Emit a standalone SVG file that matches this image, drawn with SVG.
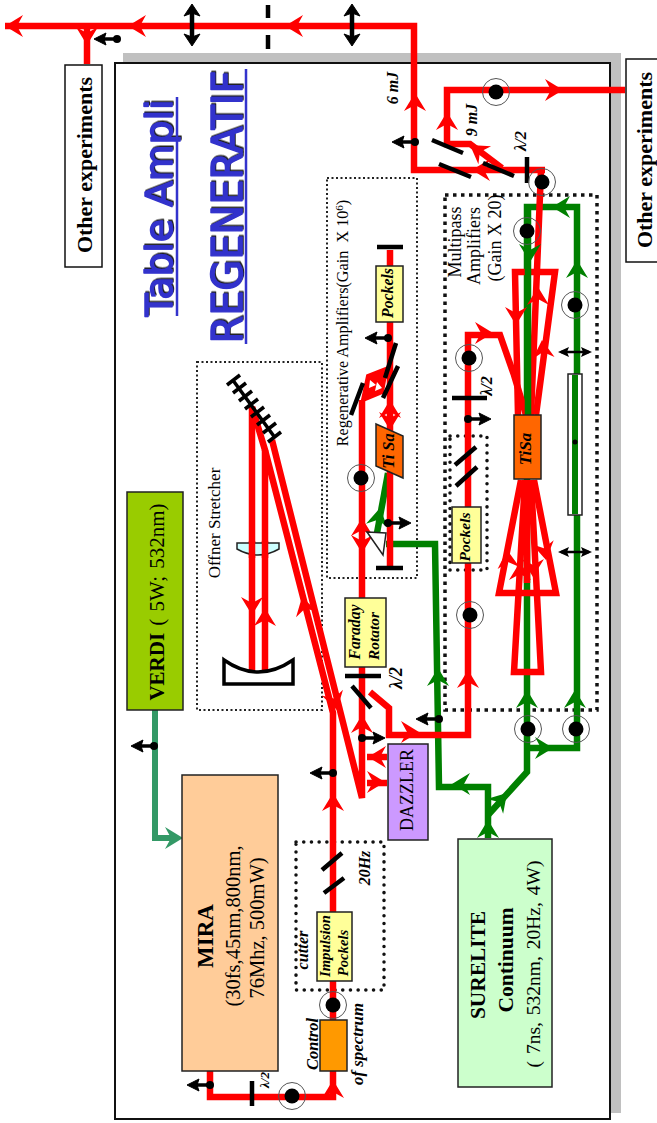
<svg xmlns="http://www.w3.org/2000/svg" width="657" height="1123" viewBox="0 0 657 1123">
<style>
text{font-family:"Liberation Serif","Times New Roman",serif;fill:#000}
.b{font-weight:bold}
.i{font-weight:bold;font-style:italic}
.t{font-family:"DejaVu Sans",sans-serif;fill:#3333cc;stroke:#3333cc;stroke-width:1.4;stroke-linejoin:round;filter:url(#sh)}
.red{fill:none;stroke:#f00;stroke-width:6.5;stroke-linejoin:miter}
.grn{fill:none;stroke:#008000;stroke-width:6.5}
.box{stroke:#222;stroke-width:1.5}
.yel{fill:#ffff99;stroke:#222;stroke-width:1.5}
.opt{stroke:#000;stroke-width:4.5;fill:none}
.dot1{fill:none;stroke:#222;stroke-width:2;stroke-dasharray:2 2.5}
.dot2{fill:none;stroke:#111;stroke-width:3.5;stroke-dasharray:3.5 4.5}
.dot3{fill:none;stroke:#111;stroke-width:3.5;stroke-linecap:round;stroke-dasharray:0.1 7.6}
.ring{fill:none;stroke:#555;stroke-width:1}
</style>
<defs>
<filter id="sh" x="-10%" y="-10%" width="120%" height="120%"><feDropShadow dx="1.5" dy="1" stdDeviation="0.6" flood-color="#222"/></filter>
<path id="ah" d="M0,0 L-18,-11 L-12,0 L-18,11 Z"/>
<g id="ci"><circle r="13.5" class="ring"/><circle r="7.5" fill="#000"/></g>
<g id="da"><circle r="4" fill="#000"/><path d="M0,0 L-14,0" stroke="#000" stroke-width="3.5"/><path d="M-23,0 L-11,-6 L-13,0 L-11,6Z" fill="#000" stroke="#000"/></g>
<g id="dv"><path d="M0,-16 L0,16" stroke="#000" stroke-width="4.5"/><path d="M0,-21 L-8,-9 L0,-12 L8,-9Z M0,21 L-8,9 L0,12 L8,9Z" fill="#000" stroke="#000"/></g>
<g id="dh"><path d="M-14,0 L14,0" stroke="#000" stroke-width="2.5"/><path d="M-17,0 L-6,-5 L-8,0 L-6,5Z M17,0 L6,-5 L8,0 L6,5Z" fill="#000"/></g>
</defs>

<g id="table">
<path d="M123,53 H621 V1113 H611 V63 H123Z" fill="#c0c0c0"/>
<rect x="115" y="63" width="495" height="1056" fill="#fff" stroke="#111" stroke-width="2"/>
</g>

<g id="title">
<text class="t" transform="translate(172,208) rotate(-90)" text-anchor="middle" font-size="38" textLength="217" lengthAdjust="spacingAndGlyphs">Table Ampli</text>
<path d="M177,97 V316 M246,69 V344" stroke="#3333cc" stroke-width="2.5"/>
<text class="t" transform="translate(242,207) rotate(-90)" text-anchor="middle" font-size="43" textLength="273" lengthAdjust="spacingAndGlyphs">REGENERATIF</text>
</g>

<g id="enclosures">
<rect x="327" y="178" width="90" height="400" class="dot1"/>
<rect x="197" y="362" width="125" height="348" class="dot1"/>
<rect x="445" y="195" width="152" height="515" class="dot2"/>
<rect x="450" y="436" width="37" height="134" class="dot3"/>
<rect x="296" y="842" width="88" height="148" class="dot3"/>
</g>

<g id="connectors">
<g id="green-beams">
<path class="grn" d="M388,473 L377,533"/>
<path class="grn" d="M386,544 H435 L439,787 H488 V838"/>
<path class="grn" d="M488,815 L527,772 V207 H577 V748 H527"/>
</g>
<g id="red-beams">
<path class="red" d="M5,26 H414 V170 H545"/>
<path class="red" d="M87,26 V64"/>
<path class="red" d="M625,90 H447 V144 H470 L502,168"/>
<path class="red" d="M210,1071 V1097 H333 V713 L265,450 L252,407 M272,440 L362,798 V400"/>
<path class="red" d="M252,672 V407 M265,672 V450"/>
<path d="M363,400 L368,376 L386,369 L382,392Z" fill="#f00" stroke="#f00" stroke-width="4"/>
<path d="M370,380 L376,385 L369,388Z M377,382 L382,388 L375,391Z" fill="#fff"/>
<path class="red" d="M390,250 V568"/>
<path class="red" d="M367,757 H387 M367,783 H387"/>
<path class="red" d="M370,692 L389,708 V735 H468 V335 H500 L514,375 L526,415"/>
<path class="red" d="M541,170 L537,270 L531,415"/>
<path class="red" d="M518,415 L515,272 H555 L536,415"/>
<path class="red" d="M521,480 L499,593 H556 L534,480"/>
<path class="red" d="M525,480 L514,672 H541 L531,480"/>
<path class="red" d="M527,480 V583"/>
</g>
<path class="grn" d="M528,207 V415"/>
<path id="pump-mira" d="M155,710 V838 H172" fill="none" stroke="#339966" stroke-width="6"/>
<use href="#ah" fill="#339966" transform="translate(183,838)"/>
<g id="arrowheads" fill="#f00">
<use href="#ah" transform="translate(5,26) rotate(180)"/>
<use href="#ah" transform="translate(128,26) rotate(180)"/>
<use href="#ah" transform="translate(285,26) rotate(180)"/>
<use href="#ah" transform="translate(87,45) rotate(90)"/>
<use href="#ah" transform="translate(415,93) rotate(-90)"/>
<use href="#ah" transform="translate(447,112) rotate(-90)"/>
<use href="#ah" transform="translate(563,90)"/>
<use href="#ah" transform="translate(470,145) rotate(-145)"/>
<use href="#ah" transform="translate(472,170) rotate(180)"/>
<use href="#ah" transform="translate(538,287) rotate(-90)"/>
<use href="#ah" transform="translate(516,325) rotate(90)"/>
<use href="#ah" transform="translate(542,340) rotate(-95)"/>
<use href="#ah" transform="translate(493,333)"/>
<use href="#ah" transform="translate(507,550) rotate(-95)"/>
<use href="#ah" transform="translate(520,562) rotate(-90)"/>
<use href="#ah" transform="translate(533,577) rotate(90)"/>
<use href="#ah" transform="translate(546,560) rotate(80)"/>
<use href="#ah" transform="translate(468,670) rotate(-90)"/>
<use href="#ah" transform="translate(362,518) rotate(-90)"/>
<use href="#ah" transform="translate(362,553) rotate(90)"/>
<use href="#ah" transform="translate(390,400) rotate(-90)"/>
<use href="#ah" transform="translate(390,430) rotate(90)"/>
<use href="#ah" transform="translate(419,732)"/>
<use href="#ah" transform="translate(362,715) rotate(-90)"/>
<use href="#ah" transform="translate(333,793) rotate(-90)"/>
<use href="#ah" transform="translate(368,757) rotate(180)"/>
<use href="#ah" transform="translate(385,782)"/>
<use href="#ah" transform="translate(252,615) rotate(90)"/>
<use href="#ah" transform="translate(265,608) rotate(-90)"/>
<use href="#ah" transform="translate(302,597) rotate(-105)"/>
<use href="#ah" transform="translate(337,710) rotate(75)"/>
<use href="#ah" transform="translate(333,1080) rotate(-90)"/>
</g>
<g id="arrowheads-green" fill="#008000">
<use href="#ah" transform="translate(552,207) rotate(180)"/>
<use href="#ah" transform="translate(530,262) rotate(90)"/>
<use href="#ah" transform="translate(577,260) rotate(-90)"/>
<use href="#ah" transform="translate(527,690) rotate(-90)"/>
<use href="#ah" transform="translate(575,690) rotate(-90)"/>
<use href="#ah" transform="translate(438,668) rotate(-90)"/>
<use href="#ah" transform="translate(380,508) rotate(-80)"/>
<use href="#ah" transform="translate(452,784) rotate(180)"/>
<use href="#ah" transform="translate(488,820) rotate(-90)"/>
<use href="#ah" transform="translate(507,793) rotate(-48)"/>
<use href="#ah" transform="translate(553,748)"/>
</g>
</g>

<g id="optics">
<path class="opt" d="M268,5 V18 M268,35 V49"/>
<use href="#dv" x="192" y="25"/>
<use href="#dv" x="352" y="25"/>
<path class="opt" d="M432,140 L463,153 M439,164 L471,177 M483,163 L514,176"/>
<path class="opt" d="M527,157 V183"/>
<path class="opt" d="M377,247 H403 M376,568 H403"/>
<path class="opt" d="M351,415 L363,383 M383,398 L398,366 M385,378 L396,343"/>
<path class="opt" d="M452,398 H487 M455,465 L476,447 M456,486 L477,467"/>
<path class="opt" d="M345,676 H381 M352,686 L371,708"/>
<path class="opt" d="M322,870 L342,853 M324,893 L344,878"/>
<path class="opt" d="M252,1081 V1106"/>
<path d="M233.500,381 L274.500,437 M227,385 L240,375 M233,393 L246,383 M239,401 L252,391 M245,409 L258,399 M251,417 L264,407 M257,425 L270,415 M263,433 L276,423 M268,442 L281,432" stroke="#000" stroke-width="3.5" fill="none"/>
<path d="M224,660 Q258,684 293,660 V684 H224Z" fill="#fff" stroke="#000" stroke-width="3.5"/>
<path d="M237,543 H279 V549 Q258,561 237,549Z" fill="#ccffff" stroke="#222" stroke-width="1.5"/>
<path class="red" d="M252,541 V558 M265,541 V558"/>
<use href="#ci" x="496" y="92"/>
<use href="#ci" x="542" y="182"/>
<use href="#ci" x="527" y="231"/>
<use href="#ci" x="575" y="305"/>
<use href="#ci" x="469" y="358"/>
<use href="#ci" x="361" y="478"/>
<use href="#ci" x="470" y="615"/>
<use href="#ci" x="528" y="729"/>
<use href="#ci" x="576" y="729"/>
<use href="#ci" x="333" y="1005"/>
<use href="#ci" x="292" y="1096"/>
<use href="#da" x="117" y="39"/>
<use href="#da" x="415" y="142"/>
<use href="#da" x="388" y="338"/>
<use href="#da" transform="translate(468,419) scale(-1,1)"/>
<use href="#da" transform="translate(388,523) scale(-1,1)"/>
<use href="#da" transform="translate(362,738) scale(-1,1)"/>
<use href="#da" x="439" y="719"/>
<use href="#da" x="333" y="773"/>
<use href="#da" x="154" y="746"/>
<use href="#da" x="210" y="1085"/>
<use href="#dh" x="575" y="352"/>
<use href="#dh" x="575" y="552"/>
<path d="M367,532 L386,533 L383,555Z" fill="#fff" stroke="#222" stroke-width="1.5"/>
<rect x="568" y="374" width="14" height="141" fill="#fff" stroke="#222" stroke-width="1.5"/>
<path d="M575,375 V514" stroke="#008000" stroke-width="6"/>
<circle cx="575" cy="442" r="2.5" fill="#000"/>
</g>

<g id="node-other-left"><rect x="65" y="65" width="37" height="202" fill="#fff" stroke="#111" stroke-width="1.5"/>
<text class="b" transform="translate(92,165) rotate(-90)" text-anchor="middle" font-size="22">Other experiments</text></g>
<g id="node-other-right"><rect x="626" y="59" width="54" height="203" fill="#fff" stroke="#111" stroke-width="1.5"/>
<text class="b" transform="translate(652,160) rotate(-90)" text-anchor="middle" font-size="22">Other experiments</text></g>
<g id="node-verdi"><rect x="127" y="492" width="56" height="218" fill="#99cc00" class="box"/>
<text transform="translate(164,602) rotate(-90)" text-anchor="middle" font-size="21" word-spacing="2"><tspan class="b">VERDI</tspan> ( 5W; 532nm)</text></g>
<g id="node-mira"><rect x="182" y="775" width="96" height="296" fill="#ffcc99" class="box"/>
<text class="b" transform="translate(213,936) rotate(-90)" text-anchor="middle" font-size="23">MIRA</text>
<text transform="translate(240,926) rotate(-90)" text-anchor="middle" font-size="20.5">(30fs,45nm,800nm,</text>
<text transform="translate(264,928) rotate(-90)" text-anchor="middle" font-size="20.5">76Mhz, 500mW)</text></g>
<g id="node-surelite"><rect x="458" y="839" width="94" height="248" fill="#ccffcc" class="box"/>
<text class="b" transform="translate(485,965) rotate(-90)" text-anchor="middle" font-size="21.4">SURELITE</text>
<text class="b" transform="translate(513,960) rotate(-90)" text-anchor="middle" font-size="21.5">Continuum</text>
<text transform="translate(540,964) rotate(-90)" text-anchor="middle" font-size="19.5" word-spacing="2">( 7ns, 532nm, 20Hz, 4W)</text></g>
<g id="node-dazzler"><rect x="388" y="744" width="40" height="96" fill="#cc99ff" class="box"/>
<text transform="translate(413,790) rotate(-90)" text-anchor="middle" font-size="18">DAZZLER</text></g>
<g id="node-faraday"><rect x="345" y="598" width="41" height="69" class="yel"/>
<text class="i" transform="translate(360,632) rotate(-90)" text-anchor="middle" font-size="15.7">Faraday</text>
<text class="i" transform="translate(379,636) rotate(-90)" text-anchor="middle" font-size="15.4">Rotator</text></g>
<g id="node-pockels-regen"><rect x="376" y="266" width="27" height="56" class="yel"/>
<text class="i" transform="translate(393,293) rotate(-90)" text-anchor="middle" font-size="15.8">Pockels</text></g>
<g id="node-pockels-multi"><rect x="452" y="507" width="29" height="56" class="yel"/>
<text class="i" transform="translate(470,537) rotate(-90)" text-anchor="middle" font-size="15.5">Pockels</text></g>
<g id="node-impulsion"><rect x="317" y="912" width="35" height="69" class="yel"/>
<text class="i" transform="translate(330,946) rotate(-90)" text-anchor="middle" font-size="14.7">Impulsion</text>
<text class="i" transform="translate(348,953) rotate(-90)" text-anchor="middle" font-size="14.7">Pockels</text></g>
<g id="node-tisa-regen"><path d="M376,424 L403,436 V478 L376,466Z" fill="#ff6600" class="box"/>
<text class="i" transform="translate(394,451) rotate(-90)" text-anchor="middle" font-size="16.4">Ti Sa</text></g>
<g id="node-tisa-multi"><rect x="514" y="415" width="27" height="64" fill="#ff6600" class="box"/>
<text class="i" transform="translate(531,449) rotate(-90)" text-anchor="middle" font-size="17">TiSa</text></g>
<g id="node-control"><rect x="320" y="1020" width="27" height="51" fill="#ff9900" class="box"/></g>

<g id="labels">
<text transform="translate(348,323) rotate(-90)" text-anchor="middle" font-size="16.2">Regenerative Amplifiers(Gain &#160;X 10<tspan dy="-5" font-size="11">6</tspan><tspan dy="5">)</tspan></text>
<text transform="translate(220,523) rotate(-90)" text-anchor="middle" font-size="17">Offner Stretcher</text>
<text transform="translate(461,242) rotate(-90)" text-anchor="middle" font-size="18">Multipass</text>
<text transform="translate(480,246) rotate(-90)" text-anchor="middle" font-size="18">Amplifiers</text>
<text transform="translate(501,238) rotate(-90)" text-anchor="middle" font-size="18">(Gain X 20)</text>
<text class="i" transform="translate(398,88) rotate(-90)" text-anchor="middle" font-size="16">6 mJ</text>
<text class="i" transform="translate(477,120) rotate(-90)" text-anchor="middle" font-size="16">9 mJ</text>
<text class="i" transform="translate(526,141) rotate(-90)" text-anchor="middle" font-size="16.500">λ/2</text>
<text class="i" transform="translate(402,678) rotate(-90)" text-anchor="middle" font-size="18">λ/2</text>
<text class="i" transform="translate(492,386) rotate(-90)" text-anchor="middle" font-size="16">λ/2</text>
<text class="i" transform="translate(269,1080) rotate(-90)" text-anchor="middle" font-size="13">λ/2</text>
<text class="i" transform="translate(370,868) rotate(-90)" text-anchor="middle" font-size="16">20Hz</text>
<text class="i" transform="translate(308,950) rotate(-90)" text-anchor="middle" font-size="16.3">cutter</text>
<text class="i" transform="translate(318,1044) rotate(-90)" text-anchor="middle" font-size="16.4">Control</text>
<text class="i" transform="translate(363,1044) rotate(-90)" text-anchor="middle" font-size="16.9">of spectrum</text>
</g>
</svg>
